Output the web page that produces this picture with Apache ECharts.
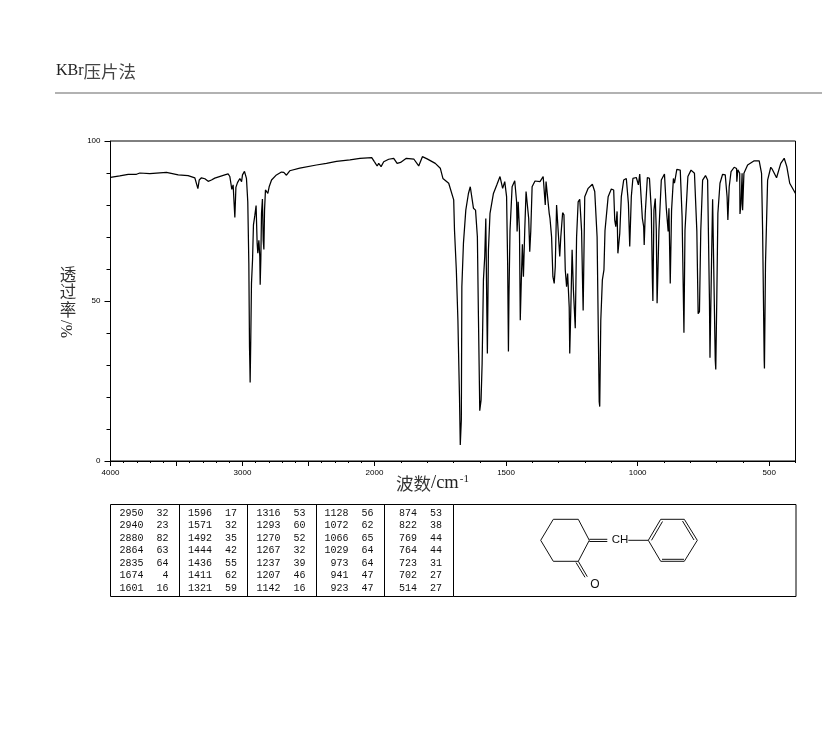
<!DOCTYPE html>
<html><head><meta charset="utf-8">
<style>html,body{margin:0;padding:0;background:#fff}#c{width:822px;height:737px}</style>
<script src="https://cdn.jsdelivr.net/npm/echarts@6/dist/echarts.min.js"></script>
</head><body><div id="c"></div>
<script>
const titleText = 'KBr压片法';
const yAxisChars = ['透','过','率'];
const yAxisUnit = '%/';
const leftTickLabels = [4000,3000,2000];
const rightTickLabels = [1500,1000,500];
const rightMajorTicks = [2000,1500,1000,500];
const peakColumns = [
 [[2950,32],[2940,23],[2880,82],[2864,63],[2835,64],[1674,4],[1601,16]],
 [[1596,17],[1571,32],[1492,35],[1444,42],[1436,55],[1411,62],[1321,59]],
 [[1316,53],[1293,60],[1270,52],[1267,32],[1237,39],[1207,46],[1142,16]],
 [[1128,56],[1072,62],[1066,65],[1029,64],[973,64],[941,47],[923,47]],
 [[874,53],[822,38],[769,44],[764,44],[723,31],[702,27],[514,27]]
];
// [wavenumber cm-1, transmittance %]
const spectrum = [
[4000,88.6],[3930,89.1],[3866,89.6],[3803,89.6],[3778,90],[3702,89.8],[3576,90.2],[3487,89.4],[3412,89.2],[3361,88.5],[3349,88.3],[3338,85.1],[3328,87.8],[3311,88.5],[3285,88.2],[3260,87.4],[3235,87.8],[3210,88.4],[3134,89.4],[3109,89.7],[3096,88.9],[3088,86.8],[3081,84.9],[3071,86.3],[3063,85.7],[3058,76.1],[3050,85.5],[3038,87],[3030,86.5],[3020,88.3],[3007,87.3],[3000,89.4],[2985,90.5],[2970,88.3],[2960,81],[2952,61.8],[2947,35.7],[2944,29.5],[2942,24.5],[2937,38.9],[2932,55.5],[2924,62.8],[2917,73.8],[2907,76.6],[2897,79.8],[2889,68],[2884,64.9],[2876,69],[2869,63.9],[2866,55.1],[2861,63.3],[2856,77.4],[2849,81.9],[2843,69],[2838,66.1],[2833,78.4],[2826,84.7],[2816,85.2],[2808,83.6],[2798,85.7],[2780,87.8],[2743,89.4],[2705,90.3],[2687,90.2],[2667,89.3],[2642,90.7],[2566,91.5],[2440,92.5],[2364,93],[2288,93.6],[2186,94.1],[2110,94.6],[2021,94.8],[2000,93.5],
[1990,92.2],[1984,93],[1975,92],[1965,93.5],[1946,94.3],[1927,94.6],[1914,93],[1901,93.3],[1879,94.6],[1850,94.3],[1832,92.2],[1818,95.1],[1800,94.4],[1769,93],[1750,91.5],[1740,88.3],[1718,86.8],[1699,81.6],[1696,72.2],[1689,59.7],[1683,44],[1681,35.7],[1677,20],[1674,5],[1670,12.8],[1668,54.5],[1662,68],[1653,78.4],[1643,83.6],[1636,85.7],[1629,85.7],[1624,79],[1616,78.4],[1609,70],[1605,45],[1601,22],[1600,15.7],[1595,19],[1591,30.5],[1586,56.6],[1581,64],[1577,75.8],[1573,46.4],[1571,33.6],[1567,66],[1561,77.4],[1548,83.6],[1535,86.3],[1523,88.9],[1513,85.2],[1505,87.3],[1498,82.6],[1494,61.8],[1491,34.2],[1489,51.4],[1485,72],[1477,85.7],[1467,87.6],[1460,81],[1458,71.7],[1454,81],[1449,72],[1446,44],[1442,56.6],[1438,67.7],[1434,57.6],[1429,72],[1424,84.2],[1418,84.4],[1414,75.8],[1410,65.4],[1406,72],[1401,85.7],[1390,87.5],[1371,87.3],[1359,88.9],[1351,80],[1348,87.3],[1342,87],[1336,77.4],[1333,75.8],[1327,70],[1322,57.6],[1317,55.5],[1313,60.7],[1308,80],[1302,80],[1296,63.9],[1292,70],[1285,77.6],[1280,76.9],[1275,59.7],[1270,54.5],[1266,58.6],[1260,48],[1258,33.6],[1254,47],[1249,66],[1244,53.4],[1237,41.5],[1232,70],[1226,81],[1220,81.8],[1213,72],[1209,54.5],[1207,47],[1201,82.6],[1188,85.2],[1172,86.5],[1163,84.2],[1154,70],[1146,18.5],[1144,17],[1140,44],[1134,56.6],[1128,59.7],[1124,72],[1112,82.6],[1100,85],[1091,84.7],[1087,75.3],[1083,73.2],[1078,78],[1075,64.9],[1068,71],[1062,82.6],[1053,87.8],[1043,88.3],[1035,80.5],[1030,67],[1024,82.6],[1018,88.3],[1005,88.6],[997,86.3],[992,89.7],[986,89.9],[982,75.8],[977,73.2],[975,67.5],[971,77.4],[963,88.6],[955,88.3],[948,78.4],[944,57],[942,50],[938,78.4],[933,82],[929,72],[926,49.3],[919,72],[910,87.8],[898,89.7],[891,79],[884,71.7],[881,79],[876,55.5],[871,78.4],[864,88.3],[860,86.8],[851,91.1],[838,90.9],[831,76.4],[824,40.1],[820,72],[809,88.9],[797,90.9],[784,89.9],[775,72],[770,46],[765,46.7],[760,72],[753,87.8],[742,89.2],[734,87.8],[727,50],[725,32.3],[719,62.8],[715,81.8],[710,81.6],[705,31.6],[703,28.6],[699,51.4],[695,77.4],[687,86.8],[677,89.6],[667,89.4],[660,82.6],[657,75.3],[652,85.7],[645,90.4],[633,91.8],[624,91.4],[623,87.3],[619,91],[612,89.9],[611,77.2],[607,80.5],[603,89.9],[601,78.4],[596,89.9],[582,92.5],[557,93.8],[538,93.8],[529,89.9],[525,72],[519,31.6],[518,28.9],[514,61.8],[506,87.8],[494,91.8],[488,91.1],[472,88.5],[456,93],[443,94.6],[433,92],[422,86.8],[400,83.6]
];

const leftPart = spectrum.filter(p => p[0] >= 2000);
const rightPart = spectrum.filter(p => p[0] <= 2000);
const INK = '#000';

function line(x1,y1,x2,y2,w,c){return {type:'line',silent:true,shape:{x1,y1,x2,y2},style:{stroke:c||INK,lineWidth:w||1}};}
function text(t,x,y,font,opt){return Object.assign({type:'text',silent:true,x,y,style:Object.assign({text:t,font,fill:'#111',textAlign:'left',textVerticalAlign:'middle'},(opt&&opt.style)||{})},opt&&opt.rotation?{rotation:opt.rotation}:{});}

const g = [];
// page heading and rule
g.push({type:'text',silent:true,x:56,y:71,style:{text:'{a|KBr}{b|压片法}',rich:{a:{font:'16px "Liberation Serif"',fill:'#222'},b:{font:'17.5px "Noto Sans CJK SC"',fill:'#444'}},textVerticalAlign:'middle'}});
g.push(line(55,93,822,93,1.4,'#999'));
// plot frame
g.push({type:'rect',silent:true,shape:{x:110.5,y:141,width:685,height:320},style:{fill:'none',stroke:INK,lineWidth:1}});
// axis titles
yAxisChars.forEach((c,i)=>g.push(text(c,68,[275,292,310][i],'16.5px "Noto Sans CJK SC"',{style:{textAlign:'center',fill:'#333'}})));
g.push(text(yAxisUnit,68,329,'16px "Liberation Serif"',{rotation:Math.PI/2,style:{textAlign:'center',fill:'#222'}}));
g.push({type:'text',silent:true,x:396,y:483,style:{text:'{c|波数}{a|/cm}{s|-1}',rich:{c:{font:'17.5px "Noto Sans CJK SC"',fill:'#333'},a:{font:'18.5px "Liberation Serif"',fill:'#222'},s:{font:'11px "Liberation Serif"',fill:'#222',verticalAlign:'top',padding:[0,0,6,1]}},textVerticalAlign:'middle'}});
// peak table
g.push({type:'rect',silent:true,shape:{x:110.5,y:504.5,width:685.5,height:92},style:{fill:'none',stroke:INK,lineWidth:1}});
[179.5,247.5,316.5,384.5,453.5].forEach(x=>g.push(line(x,504.5,x,596.5)));
const rowY=[513,525.5,538,550.5,563,575.5,588];
const colWn=[143.5,212,280.5,348.5,417];
const colVal=[168.5,237,305.5,373.5,442];
const MONO='10px "Liberation Mono"';
peakColumns.forEach((col,i)=>col.forEach((r,j)=>{
  g.push(text(String(r[0]),colWn[i],rowY[j],MONO,{style:{textAlign:'right'}}));
  g.push(text(String(r[1]),colVal[i],rowY[j],MONO,{style:{textAlign:'right'}}));
}));
// structure drawing
const ring=[[553.3,519.3],[578.3,519.3],[589.3,540.3],[578.3,561.3],[553.3,561.3],[540.7,540.3]];
const benz=[[648.3,540.3],[660.7,519.3],[684.3,519.3],[697.3,540.3],[684.3,561.3],[660.7,561.3]];
[ring,benz].forEach(r=>r.forEach((p,i)=>{const q=r[(i+1)%6];g.push(line(p[0],p[1],q[0],q[1],1,'#111'));}));
g.push(line(589.3,539.3,607.3,539.3,1,'#111'),line(589.3,541.5,607.3,541.5,1,'#111'));
g.push(line(628.3,540.3,648.3,540.3,1,'#111'));
g.push(line(651.5,540.3,662.5,521.5,1,'#111'),line(682.5,521,694,540,1,'#111'),line(662,559.3,684,559.3,1,'#111'));
g.push(line(578.3,561.3,587.3,576.7,1,'#111'),line(576,562.5,585,577.3,1,'#111'));
g.push(text('CH',620,540,'11.5px "Liberation Sans"',{style:{textAlign:'center',fill:'#111'}}));
g.push(text('O',595,584.5,'12px "Liberation Sans"',{style:{textAlign:'center',fill:'#111'}}));

const lineStyle={color:INK,width:1};
const curveStyle={color:INK,width:1.25};
const axLabel={fontFamily:'Liberation Sans',fontSize:8,color:'#000'};
const option={
  animation:false,backgroundColor:'#fff',graphic:{elements:g},
  grid:[
    {left:110.5,top:141,width:264,height:320},
    {left:374.5,top:141,width:421,height:320}
  ],
  xAxis:[
    {gridIndex:0,type:'value',inverse:true,min:2000,max:4000,interval:500,
     axisLine:{lineStyle},splitLine:{show:false},
     axisTick:{length:5,lineStyle},minorTick:{show:true,splitNumber:5,length:2,lineStyle},
     axisLabel:Object.assign({},axLabel,{margin:8,formatter:v=>leftTickLabels.includes(v)?String(v):''})},
    {gridIndex:1,type:'value',inverse:true,min:400,max:2000,interval:100,
     axisLine:{lineStyle},splitLine:{show:false},
     axisTick:{length:2,lineStyle},axisLabel:{show:false}},
    {gridIndex:1,type:'value',inverse:true,min:400,max:2000,position:'bottom',
     axisLine:{show:false},splitLine:{show:false},
     axisTick:{show:true,length:5,lineStyle,customValues:rightMajorTicks},
     axisLabel:Object.assign({},axLabel,{margin:8,customValues:rightTickLabels,formatter:v=>String(v)})}
  ],
  yAxis:[
    {gridIndex:0,type:'value',min:0,max:100,interval:50,
     axisLine:{show:true,lineStyle},splitLine:{show:false},
     axisTick:{show:true,length:6,lineStyle},minorTick:{show:true,splitNumber:5,length:4,lineStyle},
     axisLabel:Object.assign({},axLabel,{margin:10})},
    {gridIndex:1,type:'value',min:0,max:100,show:false}
  ],
  series:[
    {type:'line',xAxisIndex:0,yAxisIndex:0,data:leftPart,showSymbol:false,symbol:'none',lineStyle:curveStyle,silent:true},
    {type:'line',xAxisIndex:1,yAxisIndex:1,data:rightPart,showSymbol:false,symbol:'none',lineStyle:curveStyle,silent:true}
  ]
};
echarts.init(document.getElementById('c'),null,{renderer:'canvas'}).setOption(option);
</script></body></html>
